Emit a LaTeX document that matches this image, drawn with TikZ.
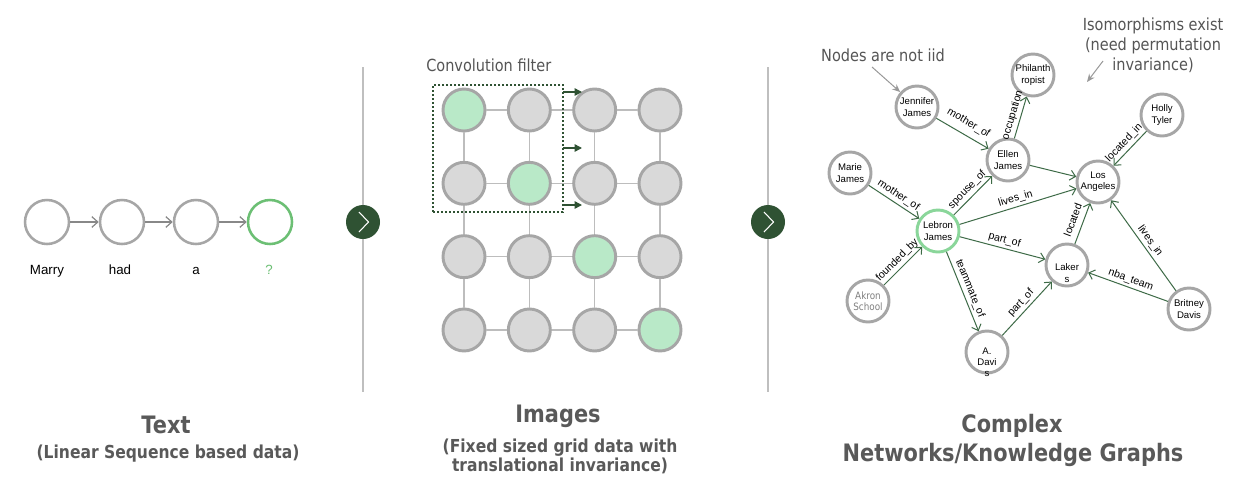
\documentclass[tikz,border=0pt]{standalone}
\usepackage{fontspec}
\setmainfont{Liberation Sans}
\newfontfamily\tah[FakeStretch=0.87]{DejaVu Sans}
\usetikzlibrary{arrows.meta,calc}
\definecolor{circgray}{HTML}{A6A6A6}
\definecolor{cellgray}{HTML}{D9D9D9}
\definecolor{cellgreen}{HTML}{B9E9C8}
\definecolor{seqgreen}{HTML}{6CBF74}
\definecolor{lebgreen}{HTML}{8AD69A}
\definecolor{darkgreen}{HTML}{2F5233}
\definecolor{edgegreen}{HTML}{3E6B47}
\definecolor{titlegray}{HTML}{595959}
\definecolor{annogray}{HTML}{555555}
\definecolor{annoarrow}{HTML}{999999}
\definecolor{sepgray}{HTML}{BFBFBF}
\definecolor{gridgray}{HTML}{BDBDBD}
\definecolor{seqarrowgray}{HTML}{888888}
\begin{document}
\begin{tikzpicture}[x=0.75pt,y=-0.75pt,
  seqnode/.style={circle, draw=circgray, line width=1.9pt, minimum size=33pt, inner sep=0pt},
  seqlabel/.style={anchor=base, font=\fontsize{10}{12}\selectfont},
  seqarrow/.style={draw=seqarrowgray, line width=0.9pt, -{Straight Barb[length=4.5pt,width=8pt]}},
  gridnode/.style={circle, draw=circgray, line width=2.2pt, minimum size=31.5pt, inner sep=0pt},
  gridline/.style={draw=gridgray, line width=1.2pt},
  filterbox/.style={draw=darkgreen, line width=0.8pt, dash pattern=on 1.6pt off 1.4pt, minimum width=97.5pt, minimum height=95.25pt, inner sep=0pt},
  convarrow/.style={draw=darkgreen, line width=1.1pt, -{Triangle[length=5.5pt,width=5.5pt]}},
  sepline/.style={draw=sepgray, line width=1pt},
  sepknob/.style={circle, fill=darkgreen, minimum size=25.5pt, inner sep=0pt},
  chevron/.style={draw=white, line width=0.8pt},
  gnode/.style={circle, draw=circgray, line width=2.2pt, minimum size=31.5pt, inner sep=0pt, align=center, font=\fontsize{7.2}{8.4}\selectfont},
  gtext/.style={align=center, inner sep=0pt, font=\fontsize{7.2}{8.4}\selectfont},
  gedge/.style={draw=edgegreen, line width=0.75pt, -{Straight Barb[length=4pt,width=7.5pt]}},
  elabel/.style={sloped, above=1.5pt, inner sep=0.5pt, font=\fontsize{7.9}{9}\selectfont, text=black},
  annot/.style={draw=annoarrow, line width=0.75pt, -{Stealth[length=6pt,width=5pt]}},
  annotext/.style={text=annogray, font=\tah\fontsize{12.5}{15}\selectfont, align=center, inner sep=0pt},
  titletext/.style={anchor=base, text=titlegray, font=\tah\bfseries\fontsize{18}{22}\selectfont, inner sep=0pt},
  subtext/.style={anchor=base, text=titlegray, font=\tah\bfseries\fontsize{13.4}{16}\selectfont, inner sep=0pt}
]
\useasboundingbox (0,0) rectangle (1255,486);
\fill[white] (0,0) rectangle (1255,486);

% ---------------- Text section ----------------
\node[seqnode] (s1) at (47,222) {};
\node[seqnode] (s2) at (122,222) {};
\node[seqnode] (s3) at (196,222) {};
\node[seqnode, draw=seqgreen] (s4) at (270,222) {};
\draw[seqarrow] (s1) -- (s2);
\draw[seqarrow] (s2) -- (s3);
\draw[seqarrow] (s3) -- (s4);
\node[seqlabel] (l1) at (47,274) {Marry};
\node[seqlabel] (l2) at (120,274) {had};
\node[seqlabel] (l3) at (196,274) {a};
\node[seqlabel, text=seqgreen] (l4) at (269,274) {?};

% ---------------- separators ----------------
\coordinate (sepAt) at (363,67);
\coordinate (sepAb) at (363,392);
\draw[sepline] (sepAt) -- (sepAb);
\node[sepknob] (knobA) at (363,222) {};
\draw[chevron] ($(knobA)+(-4,-10)$) -- ($(knobA)+(5.5,0)$) -- ($(knobA)+(-4,10)$);

\coordinate (sepBt) at (768,67);
\coordinate (sepBb) at (768,392);
\draw[sepline] (sepBt) -- (sepBb);
\node[sepknob] (knobB) at (768,222) {};
\draw[chevron] ($(knobB)+(-4,-10)$) -- ($(knobB)+(5.5,0)$) -- ($(knobB)+(-4,10)$);

% ---------------- Images section ----------------
\foreach \c in {0,...,3}{
  \foreach \r in {0,...,3}{
    \ifnum\c=\r \def\cf{cellgreen}\else\def\cf{cellgray}\fi
    \node[gridnode, fill=\cf] (g\c\r) at ({464+65.33*\c},{110+73.33*\r}) {};
  }
}
\foreach \c/\n in {0/1,1/2,2/3}{
  \foreach \r in {0,...,3}{
    \draw[gridline] (g\c\r) -- (g\n\r);
    \draw[gridline] (g\r\c) -- (g\r\n);
  }
}
\node[filterbox] (filter) at (498,148.5) {};
\node[annotext, anchor=west] (convlab) at (426,65) {Convolution filter};
\coordinate (ca1) at (563,92);  \coordinate (cb1) at (582,92);
\coordinate (ca2) at (563,148); \coordinate (cb2) at (582,148);
\coordinate (ca3) at (563,205); \coordinate (cb3) at (582,205);
\draw[convarrow] (ca1) -- (cb1);
\draw[convarrow] (ca2) -- (cb2);
\draw[convarrow] (ca3) -- (cb3);

% ---------------- Graph section ----------------
\node[gnode] (jj) at (917,107) {Jennifer\\James};
\node[gnode] (ph) at (1033,75) {Philanth\\ropist};
\node[gnode] (ej) at (1008,160) {Ellen\\James};
\node[gnode] (mj) at (850,173) {Marie\\James};
\node[gnode] (la) at (1098,182) {Los\\Angeles};
\node[gnode] (ht) at (1162,115) {Holly\\Tyler};
\node[gnode, draw=lebgreen] (lj) at (938,231) {Lebron\\James};
\node[gnode] (lk) at (1067,265) {};
\node[gtext] (lkt) at (1067,273) {Laker\\s};
\node[gnode, text=gray, font=\tah\fontsize{7.6}{8.6}\selectfont] (ak) at (868,301) {Akron\\School};
\node[gnode] (ad) at (987,352) {};
\node[gtext] (adt) at (987,362) {A.\\Davi\\s};
\node[gnode] (bd) at (1189,309) {Britney\\Davis};

\draw[gedge] (jj) -- node[elabel, above=3pt] {mother\_of} (ej);
\draw[gedge] (ej) -- node[elabel] {occupation} (ph);
\draw[gedge] (ej) -- (la);
\draw[gedge] (ht) -- node[elabel] {located\_in} (la);
\draw[gedge] (mj) -- node[elabel] {mother\_of} (lj);
\draw[gedge] (lj) -- node[elabel] {spouse\_of} (ej);
\draw[gedge] (lj) -- node[elabel] {lives\_in} (la);
\draw[gedge] (lj) -- node[elabel] {part\_of} (lk);
\draw[gedge] (ak) -- node[elabel] {founded\_by} (lj);
\draw[gedge] (lj) -- node[elabel] {teammate\_of} (ad);
\draw[gedge] (ad) -- node[elabel] {part\_of} (lk);
\draw[gedge] (lk) -- node[elabel, above=2.5pt] {located} (la);
\draw[gedge] (bd) -- node[elabel] {nba\_team} (lk);
\draw[gedge] (bd) -- node[elabel] {lives\_in} (la);

% annotations
\node[annotext] (iid) at (883,55) {Nodes are not iid};
\coordinate (iidA) at (872,67);
\draw[annot] (iidA) -- (jj);
\node[annotext] (iso) at (1153,45) {Isomorphisms exist\\(need permutation\\invariance)};
\coordinate (isoA) at (1103,61);
\coordinate (isoB) at (1087,82);
\draw[annot] (isoA) -- (isoB);

% ---------------- titles ----------------
\node[titletext] (t1) at (166,433) {Text};
\node[subtext] (t1s) at (168,458) {(Linear Sequence based data)};
\node[titletext] (t2) at (558,422) {Images};
\node[subtext] (t2s) at (560,452) {(Fixed sized grid data with};
\node[subtext] (t2t) at (560,471) {translational invariance)};
\node[titletext] (t3) at (1012,432) {Complex};
\node[titletext] (t3s) at (1013,461) {Networks/Knowledge Graphs};
\end{tikzpicture}
\end{document}
